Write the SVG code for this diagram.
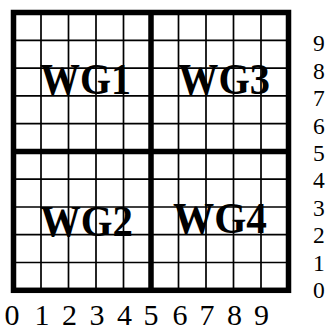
<svg xmlns="http://www.w3.org/2000/svg" width="333" height="330" viewBox="0 0 333 330">
<style>
.thin{stroke:#000;stroke-width:1.7;fill:none}
.thick{stroke:#000;stroke-width:5.5;fill:none}
.wg{font-family:"Liberation Serif","Times New Roman",serif;font-weight:bold;font-size:44px;fill:#000}
.ax{font-family:"Liberation Serif","Times New Roman",serif;font-size:23.5px;fill:#000}
.axb{font-family:"Liberation Serif","Times New Roman",serif;font-size:30px;fill:#000;text-anchor:middle}
</style>
<rect width="333" height="330" fill="#fff"/>
<g id="grid">
<path class="thin" d="M41 12.5V290.3M68.5 12.5V290.3M96 12.5V290.3M123.5 12.5V290.3M178.5 12.5V290.3M206 12.5V290.3M233.5 12.5V290.3M261 12.5V290.3"/>
<path class="thin" d="M13.5 40.3H288.5M13.5 68.1H288.5M13.5 95.8H288.5M13.5 123.6H288.5M13.5 179.2H288.5M13.5 207H288.5M13.5 234.7H288.5M13.5 262.5H288.5"/>
<path class="thick" d="M151 12.5V290.3M13.5 151.4H288.5"/>
<rect class="thick" x="13.5" y="12.5" width="275" height="277.8"/>
</g>
<g id="wg1"><text class="wg" x="40" y="94" textLength="91" lengthAdjust="spacingAndGlyphs">WG1</text></g>
<g id="wg3"><text class="wg" x="178" y="94" textLength="92" lengthAdjust="spacingAndGlyphs">WG3</text></g>
<g id="wg2"><text class="wg" x="40" y="236" textLength="93" lengthAdjust="spacingAndGlyphs">WG2</text></g>
<g id="wg4"><text class="wg" x="173" y="233" textLength="94" lengthAdjust="spacingAndGlyphs">WG4</text></g>
<g id="yaxis">
<text class="ax" x="313" y="51.4">9</text>
<text class="ax" x="313" y="78.8">8</text>
<text class="ax" x="313" y="106.2">7</text>
<text class="ax" x="313" y="133.6">6</text>
<text class="ax" x="313" y="161">5</text>
<text class="ax" x="313" y="188.4">4</text>
<text class="ax" x="313" y="215.8">3</text>
<text class="ax" x="313" y="243.2">2</text>
<text class="ax" x="313" y="270.6">1</text>
<text class="ax" x="313" y="298">0</text>
</g>
<g id="xaxis">
<text class="axb" x="12" y="325">0</text>
<text class="axb" x="42" y="325">1</text>
<text class="axb" x="69.5" y="325">2</text>
<text class="axb" x="97" y="325">3</text>
<text class="axb" x="124.5" y="325">4</text>
<text class="axb" x="151" y="325">5</text>
<text class="axb" x="180" y="325">6</text>
<text class="axb" x="207" y="325">7</text>
<text class="axb" x="234.5" y="325">8</text>
<text class="axb" x="261.5" y="325">9</text>
</g>
</svg>
